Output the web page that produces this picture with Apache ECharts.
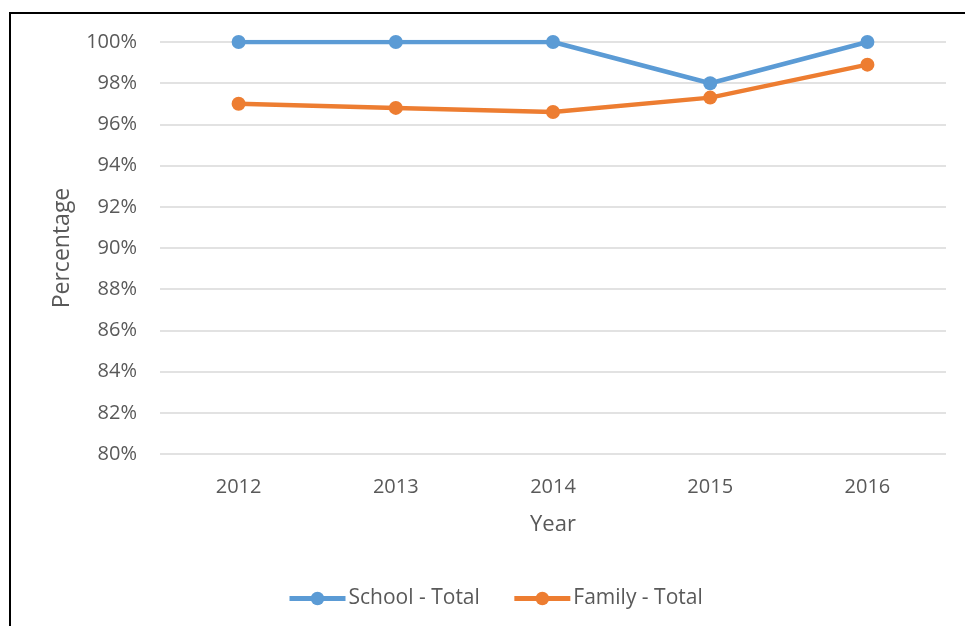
<!DOCTYPE html>
<html><head><meta charset="utf-8">
<script src="https://cdn.jsdelivr.net/npm/echarts@6/dist/echarts.min.js"></script>
<style>html,body{margin:0;padding:0;background:#fff}#c{width:965px;height:626px}</style>
</head><body><div id="c"></div>
<script>
const years = ['2012','2013','2014','2015','2016'];
const schoolTotal = [100, 100, 100, 98, 100];
const familyTotal = [97.0, 96.8, 96.6, 97.3, 98.9];
const seriesNames = ['School - Total', 'Family - Total'];

const FONT = '"Open Sans", sans-serif';
const chart = echarts.init(document.getElementById('c'), null, {renderer:'canvas'});
chart.setOption({
  animation:false,
  backgroundColor:'#fff',
  graphic:[{type:'rect', shape:{x:10,y:13,width:1200,height:900}, style:{fill:'none', stroke:'#000', lineWidth:2}, silent:true}],
  grid:{left:160, right:19, top:42, bottom:172},
  legend:{
    top:583, left:282, itemWidth:56, itemHeight:17, itemGap:32,
    lineStyle:{width:5},
    textStyle:{fontFamily:FONT, fontSize:21, color:'#595959', padding:[0,0,0,-2]},
    data:seriesNames
  },
  xAxis:{
    type:'category', data:years, boundaryGap:true,
    axisLine:{show:false}, axisTick:{show:false},
    axisLabel:{fontFamily:FONT, fontSize:20, color:'#595959', margin:23},
    name:'Year', nameLocation:'middle', nameGap:60,
    nameTextStyle:{fontFamily:FONT, fontSize:22, color:'#595959'}
  },
  yAxis:{
    type:'value', min:80, max:100, interval:2,
    axisLine:{show:false}, axisTick:{show:false},
    axisLabel:{fontFamily:FONT, fontSize:20, color:'#595959', margin:23, formatter:v=>v+'%'},
    splitLine:{lineStyle:{color:'#d9d9d9', width:1.5}},
    name:'Percentage', nameLocation:'middle', nameGap:86, nameRotate:90,
    nameTextStyle:{fontFamily:FONT, fontSize:23, color:'#595959'}
  },
  series:[
    {name:seriesNames[0], type:'line', data:schoolTotal, symbol:'circle', symbolSize:14,
     lineStyle:{width:4.5, color:'#5B9BD5'}, itemStyle:{color:'#5B9BD5'}},
    {name:seriesNames[1], type:'line', data:familyTotal, symbol:'circle', symbolSize:14,
     lineStyle:{width:4.5, color:'#ED7D31'}, itemStyle:{color:'#ED7D31'}}
  ]
});
</script></body></html>
